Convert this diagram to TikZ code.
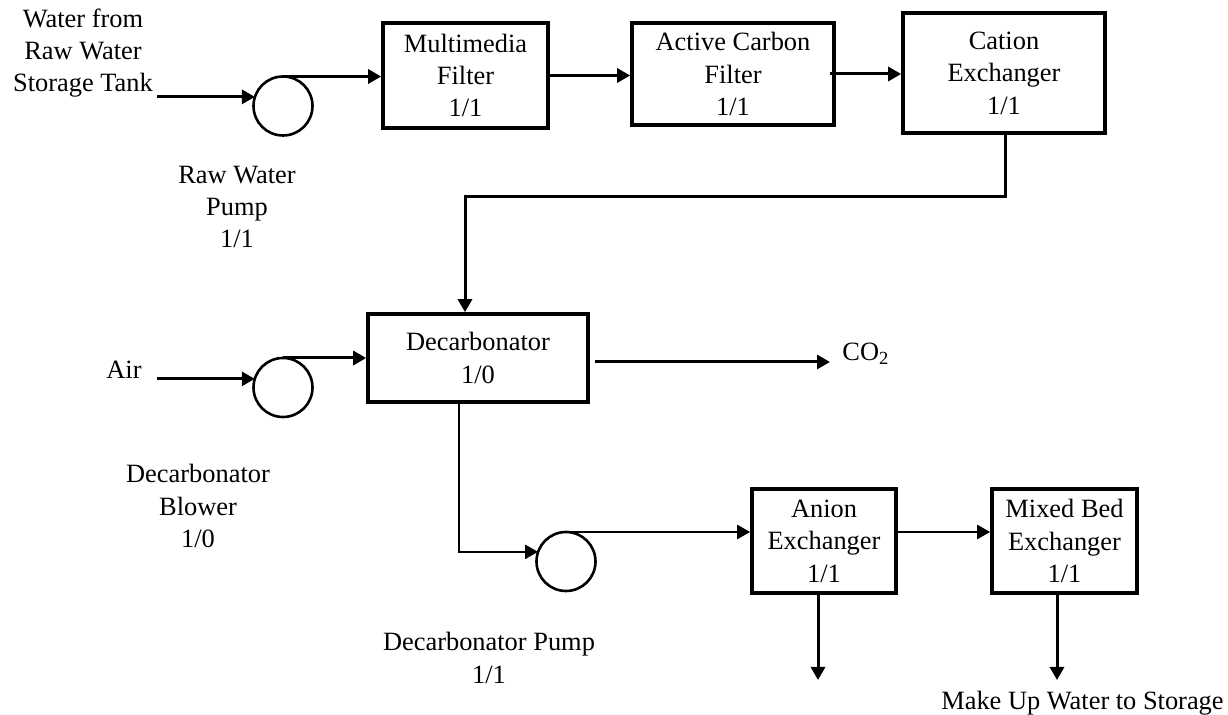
\documentclass[tikz,border=0pt]{standalone}
\usepackage{fontspec}
\setmainfont{Liberation Serif}
\usetikzlibrary{arrows.meta}
\usetikzlibrary{positioning}

\tikzset{
	unit/.style={draw, line width=1.8pt, align=center, inner sep=0pt},
	pump/.style={draw, circle, line width=1.3pt, minimum size=29.5pt, inner sep=0pt, outer sep=0pt},
	flow/.style={line width=1.5pt, -{Triangle[length=6.5pt,width=7pt]}},
	flowthin/.style={line width=1.2pt, -{Triangle[length=6.5pt,width=7pt]}},
	tag/.style={align=center, inner sep=0pt}
}

\begin{document}
\begin{tikzpicture}[x=0.5pt,y=-0.5pt,font=\fontsize{13.2}{16.2}\selectfont]

		\useasboundingbox (0,0) rectangle (1228,715);

		% treatment units
		\node (mmf) [unit, minimum width=82.5pt, minimum height=52.5pt] at (465.5,75.5) {Multimedia\\Filter\\1/1};
		\node (acf) [unit, minimum width=101pt, minimum height=51pt] at (733,74) {Active Carbon\\Filter\\1/1};
		\node (cex) [unit, minimum width=101pt, minimum height=60pt] at (1004,73) {Cation\\Exchanger\\1/1};
		\node (dcb) [unit, minimum width=110pt, minimum height=44pt] at (478,358) {Decarbonator\\1/0};
		\node (aex) [unit, minimum width=72pt, minimum height=52pt] at (824,541) {Anion\\Exchanger\\1/1};
		\node (mbx) [unit, minimum width=72.5pt, minimum height=52pt] at (1064.5,541) {Mixed Bed\\Exchanger\\1/1};

		% pumps and blower
		\node (rwp) [pump] at (283,106) {};
		\node (dbl) [pump] at (283,387.5) {};
		\node (dcp) [pump] at (566,561.5) {};

		% free ends
		\coordinate (feed) at (157,97);
		\coordinate (air) at (157,379);
		\coordinate (bend) at (465,197);
		\coordinate (drop) at (459,552);
		\coordinate (vent) at (830,362);
		\coordinate (waste) at (818,680);
		\coordinate (product) at (1057,680);

		% labels
		\node (src) [tag] at (83,53) {Water from\\Raw Water\\Storage Tank};
		\node (rwplbl) [tag] at (237,207) {Raw Water\\Pump\\1/1};
		\node (airlbl) [tag] at (124,370) {Air};
		\node (dbllbl) [tag] at (198,506) {Decarbonator\\Blower\\1/0};
		\node (dcplbl) [tag] at (489,658) {Decarbonator Pump\\1/1};
		\node (co2) [tag, right=6pt of vent, yshift=4pt] {CO\textsubscript{2}};
		\node (store) [tag] at (1082.5,703) {Make Up Water to Storage};

		% water line
		\draw [flow] (rwp.162 -| feed) -- (rwp.162);
		\draw [flow] (rwp.north) -- (rwp.north -| mmf.west);
		\draw [flow] (mmf.east) -- (mmf.east -| acf.west);
		\draw [flow] ([xshift=-3pt]acf.east) -- (acf.east -| cex.west);
		\draw [flow] (cex.south -| 1005,0) |- (bend) -- (bend |- dcb.north);

		% air and CO2
		\draw [flow] (dbl.163 -| air) -- (dbl.163);
		\draw [flow] (dbl.north) -- (dbl.north -| dcb.west);
		\draw [flow] ([xshift=2.5pt]dcb.east |- vent) -- (vent);

		% degassed water
		\draw [flowthin] (dcb.south -| drop) |- (dcp.161);
		\draw [flowthin] (dcp.north) -- (dcp.north -| aex.west);
		\draw [flowthin] ([xshift=-2pt]aex.east |- dcp.north) -- (mbx.west |- dcp.north);
		\draw [flow] (aex.south -| waste) -- (waste);
		\draw [flow] (mbx.south -| product) -- (product);

\end{tikzpicture}
\end{document}
